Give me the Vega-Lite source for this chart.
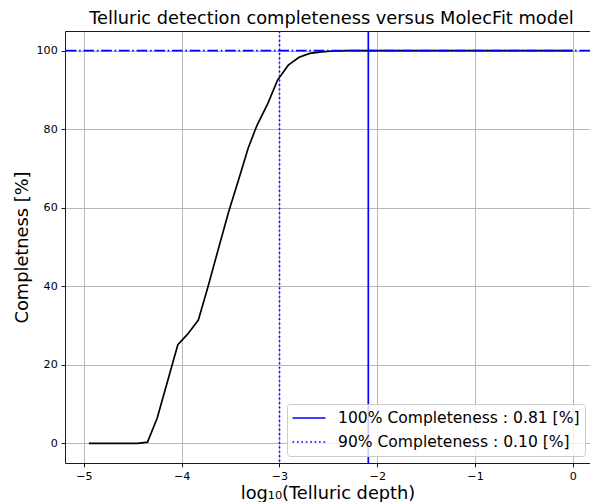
{
  "$schema": "https://vega.github.io/schema/vega-lite/v6.json",
  "width": 525,
  "height": 432,
  "autosize": {"type": "none"},
  "padding": {"left": 65, "top": 31, "right": 0, "bottom": 39},
  "background": "white",
  "title": {
    "text": "Telluric detection completeness versus MolecFit model",
    "font": "DejaVu Sans",
    "fontSize": 17.8,
    "fontWeight": "normal",
    "color": "black",
    "anchor": "middle",
    "dx": 4,
    "offset": 2
  },
  "config": {
    "view": {"stroke": null},
    "axis": {
      "domainColor": "black",
      "domainWidth": 0.9,
      "tickColor": "black",
      "tickWidth": 0.9,
      "tickSize": 3.9,
      "labelFont": "DejaVu Sans",
      "labelFontSize": 11.1,
      "labelColor": "black",
      "labelPadding": 3.9,
      "gridColor": "#b0b0b0",
      "gridWidth": 0.9,
      "titleFont": "DejaVu Sans",
      "titleFontSize": 17.8,
      "titleFontWeight": "normal",
      "titleColor": "black"
    }
  },
  "datasets": {
    "curve": [
      {"logdepth": -4.95, "completeness": 0},
      {"logdepth": -4.85, "completeness": 0},
      {"logdepth": -4.75, "completeness": 0},
      {"logdepth": -4.65, "completeness": 0},
      {"logdepth": -4.55, "completeness": 0},
      {"logdepth": -4.45, "completeness": 0},
      {"logdepth": -4.35, "completeness": 0.3},
      {"logdepth": -4.25, "completeness": 6.5},
      {"logdepth": -4.04, "completeness": 25.1},
      {"logdepth": -3.94, "completeness": 27.8},
      {"logdepth": -3.83, "completeness": 31.4},
      {"logdepth": -3.73, "completeness": 40},
      {"logdepth": -3.62, "completeness": 50},
      {"logdepth": -3.52, "completeness": 59},
      {"logdepth": -3.42, "completeness": 67},
      {"logdepth": -3.32, "completeness": 75.2},
      {"logdepth": -3.23, "completeness": 81},
      {"logdepth": -3.12, "completeness": 86.5},
      {"logdepth": -3.02, "completeness": 92.5},
      {"logdepth": -2.91, "completeness": 96.3},
      {"logdepth": -2.8, "completeness": 98.3},
      {"logdepth": -2.69, "completeness": 99.3},
      {"logdepth": -2.57, "completeness": 99.7},
      {"logdepth": -2.45, "completeness": 99.9},
      {"logdepth": -2.3, "completeness": 100},
      {"logdepth": -2.0, "completeness": 100},
      {"logdepth": -1.5, "completeness": 100},
      {"logdepth": -1.0, "completeness": 100},
      {"logdepth": -0.5, "completeness": 100},
      {"logdepth": 0.0, "completeness": 100}
    ],
    "hline": [{"completeness": 100}],
    "vlines": [
      {"logdepth": -2.0915, "label": "100% Completeness : 0.81 [%]"},
      {"logdepth": -3.0, "label": "90% Completeness : 0.10 [%]"}
    ]
  },
  "resolve": {"axis": {"x": "independent"}},
  "layer": [
    {
      "data": {"name": "curve"},
      "mark": {"type": "line", "color": "black", "strokeWidth": 1.67},
      "encoding": {
        "x": {
          "field": "logdepth",
          "type": "quantitative",
          "scale": {"domain": [-5.19411, 0.17619], "nice": false, "zero": false},
          "axis": {
            "orient": "bottom",
            "values": [-5, -4, -3, -2, -1, 0],
            "format": "d",
            "title": "log₁₀(Telluric depth)",
            "titlePadding": 3,
            "labelFlush": false,
            "labelOverlap": false,
            "grid": true
          }
        },
        "y": {
          "field": "completeness",
          "type": "quantitative",
          "scale": {"domain": [-5, 105], "nice": false, "zero": false},
          "axis": {
            "values": [0, 20, 40, 60, 80, 100],
            "format": "d",
            "title": "Completness [%]",
            "titlePadding": 5,
            "labelFlush": false,
            "labelOverlap": false,
            "grid": true
          }
        }
      }
    },
    {
      "data": {"name": "hline"},
      "mark": {"type": "rule", "color": "blue", "strokeWidth": 1.67, "strokeDash": [10.7, 2.67, 1.67, 2.67]},
      "encoding": {
        "y": {"field": "completeness", "type": "quantitative"}
      }
    },
    {
      "data": {"name": "vlines"},
      "mark": {"type": "rule", "strokeWidth": 1.67},
      "encoding": {
        "x": {
          "field": "logdepth",
          "type": "quantitative",
          "axis": {
            "orient": "top",
            "labels": false,
            "ticks": false,
            "grid": false,
            "title": null,
            "domain": true
          }
        },
        "color": {
          "field": "label",
          "type": "nominal",
          "scale": {
            "domain": ["100% Completeness : 0.81 [%]", "90% Completeness : 0.10 [%]"],
            "range": ["blue", "blue"]
          },
          "legend": {
            "orient": "none",
            "legendX": 222,
            "legendY": 373,
            "title": null,
            "symbolType": "M-2,0H2",
            "symbolSize": 272.25,
            "symbolStrokeWidth": 1.67,
            "symbolOffset": 8,
            "labelOffset": 19.5,
            "labelFont": "DejaVu Sans",
            "labelFontSize": 15.56,
            "labelColor": "black",
            "labelLimit": 400,
            "padding": 4.5,
            "rowPadding": 5,
            "fillColor": "rgba(255,255,255,0.8)",
            "strokeColor": "#cccccc",
            "cornerRadius": 3
          }
        },
        "strokeDash": {
          "field": "label",
          "type": "nominal",
          "scale": {
            "domain": ["100% Completeness : 0.81 [%]", "90% Completeness : 0.10 [%]"],
            "range": [[1, 0], [1.67, 2.75]]
          },
          "legend": {
            "orient": "none",
            "legendX": 222,
            "legendY": 373,
            "title": null,
            "symbolType": "M-2,0H2",
            "symbolSize": 272.25,
            "symbolStrokeWidth": 1.67,
            "symbolOffset": 8,
            "labelOffset": 19.5,
            "labelFont": "DejaVu Sans",
            "labelFontSize": 15.56,
            "labelColor": "black",
            "labelLimit": 400,
            "padding": 4.5,
            "rowPadding": 5,
            "fillColor": "rgba(255,255,255,0.8)",
            "strokeColor": "#cccccc",
            "cornerRadius": 3
          }
        }
      }
    }
  ]
}
